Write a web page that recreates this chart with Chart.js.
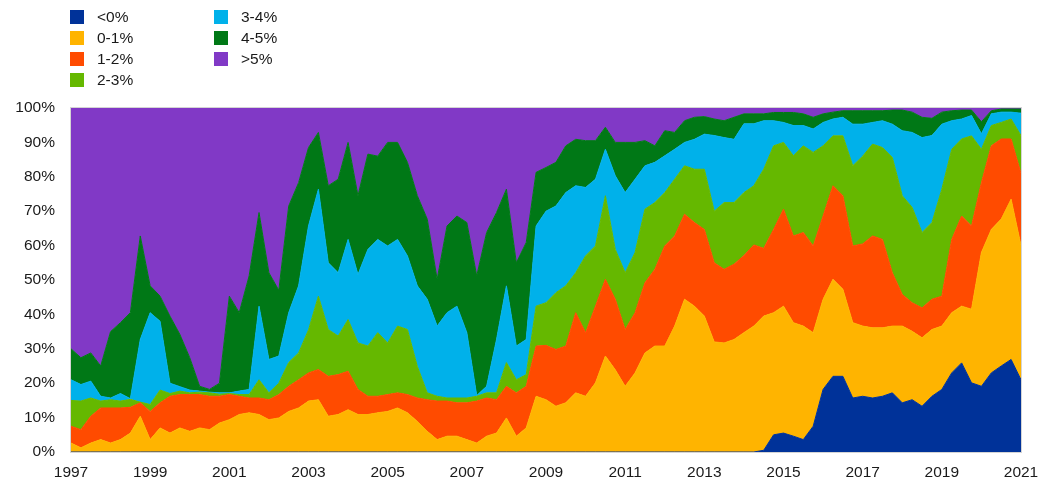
<!DOCTYPE html>
<html>
<head>
<meta charset="utf-8">
<script src="https://cdn.jsdelivr.net/npm/chart.js@4.4.1/dist/chart.umd.min.js"></script>
<style>
    body { margin: 0; background: #fff; font-family: "Liberation Sans", Arial, sans-serif; }
    #wrap { position: relative; width: 1041px; height: 484px; }
    #legend { position: absolute; left: 70px; top: 9px; }
    .item { position: absolute; white-space: nowrap; font-size: 15.5px; color: #1a1a1a; line-height: 16px; }
    .item span.box { position: absolute; left: 0; top: 1px; width: 14px; height: 14px; }
    .item span.txt { position: absolute; left: 27px; top: 0; }
</style>
</head>
<body>
<div id="wrap">
    <canvas id="chart" width="1041" height="484"></canvas>
    <div id="legend"></div>
</div>
<script>
// quarterly observations
const dates = [
    '1997-01', '1997-04', '1997-07', '1997-10',
    '1998-01', '1998-04', '1998-07', '1998-10',
    '1999-01', '1999-04', '1999-07', '1999-10',
    '2000-01', '2000-04', '2000-07', '2000-10',
    '2001-01', '2001-04', '2001-07', '2001-10',
    '2002-01', '2002-04', '2002-07', '2002-10',
    '2003-01', '2003-04', '2003-07', '2003-10',
    '2004-01', '2004-04', '2004-07', '2004-10',
    '2005-01', '2005-04', '2005-07', '2005-10',
    '2006-01', '2006-04', '2006-07', '2006-10',
    '2007-01', '2007-04', '2007-07', '2007-10',
    '2008-01', '2008-04', '2008-07', '2008-10',
    '2009-01', '2009-04', '2009-07', '2009-10',
    '2010-01', '2010-04', '2010-07', '2010-10',
    '2011-01', '2011-04', '2011-07', '2011-10',
    '2012-01', '2012-04', '2012-07', '2012-10',
    '2013-01', '2013-04', '2013-07', '2013-10',
    '2014-01', '2014-04', '2014-07', '2014-10',
    '2015-01', '2015-04', '2015-07', '2015-10',
    '2016-01', '2016-04', '2016-07', '2016-10',
    '2017-01', '2017-04', '2017-07', '2017-10',
    '2018-01', '2018-04', '2018-07', '2018-10',
    '2019-01', '2019-04', '2019-07', '2019-10',
    '2020-01', '2020-04', '2020-07', '2020-10',
    '2021-01'
];

// cumulative shares (%) with yield below each threshold
const shareBelow0 = [
    0, 0, 0, 0,  0, 0, 0, 0,  0, 0, 0, 0,  0, 0, 0, 0,  0, 0, 0, 0,
    0, 0, 0, 0,  0, 0, 0, 0,  0, 0, 0, 0,  0, 0, 0, 0,  0, 0, 0, 0,
    0, 0, 0, 0,  0, 0, 0, 0,  0, 0, 0, 0,  0, 0, 0, 0,  0, 0, 0, 0,
    0, 0, 0, 0,  0, 0, 0, 0,  0, 0, 0.5, 5,
    5.5, 4.6, 3.6, 7.5,
    18.2, 22, 22, 15.7,
    16.2, 15.7, 16.2, 17.2,
    14.3, 15.2, 13.3, 16.2,
    18.2, 23, 25.9, 20.1,
    19.1, 23, 25, 26.9,
    21
];
const shareBelow1 = [
    2.6, 1.2, 2.6, 3.6,   2.6, 3.6, 5.5, 10.4,  3.6, 7, 5.5, 7,       6, 7, 6.5, 8.4,
    9.4, 10.9, 11.4, 10.9, 9.4, 9.9, 11.8, 12.8, 14.8, 15.2, 10.4, 10.9, 12.3, 10.9, 10.9, 11.4,
    11.8, 12.8, 11.4, 8.9, 6, 3.6, 4.6, 4.6,     3.6, 2.6, 4.6, 5.5,   9.9, 4.6, 7, 16.2,
    15.2, 13.3, 14.3, 17.2, 16.2, 20.1, 27.9, 23.9, 19.1, 23, 28.8, 30.8, 30.8, 36.6, 44.4, 42.4,
    39.5, 32, 31.7, 32.7, 34.7, 36.6, 39.5, 40.5, 42.4, 37.6, 36.6, 34.7, 44.4, 50.2, 47.3, 37.6,
    36.6, 36.1, 36.1, 36.6, 36.6, 35.1, 33.2, 35.6, 36.6, 40.5, 42.4, 41.5, 58, 64.7, 67.7, 73.5,
    60
];
const shareBelow2 = [
    7.5, 6.5, 10.4, 12.8, 12.8, 12.8, 13, 14.3,   11.8, 14.3, 16.2, 16.7, 16.7, 16.7, 16.2, 16.2,
    16.7, 16.2, 15.7, 15.7, 15.2, 16.7, 19.1, 21, 23, 24, 22, 22.5,       23.5, 18.2, 16.2, 16.2,
    16.7, 17.2, 16.7, 15.7, 15.2, 14.8, 14.8, 14.3, 14.3, 14.8, 15.7, 15.2, 19.1, 17.2, 19.1, 30.8,
    31, 29.8, 30.8, 40.5, 34.7, 42.4, 50.2, 44.4, 35.6, 40.5, 49.2, 53.1, 59.9, 62.8, 69.1, 66.7,
    64.7, 55, 53.1, 54.6, 57.1, 60.2, 59.2, 64.7, 70.6, 62.8, 63.8, 59.9, 68.6, 77.4, 74.5, 59.9,
    60.5, 62.8, 61.8, 52.1, 45.8, 43.4, 41.9, 44.4, 45.3, 61.8, 68.6, 65.7, 78.3, 89, 91, 91,
    81
];
const shareBelow3 = [
    15, 14.8, 15.7, 14.8, 15.2, 14.8, 15.3, 14.5, 13.8, 18, 17, 17.7,    17.2, 17.4, 17.2, 16.8,
    17, 16.7, 16.7, 21,   17.2, 20, 26, 28.8,     35.5, 45.3, 35.6, 33.7, 38.5, 31.7, 30.8, 34.7,
    31.7, 36.6, 35.6, 24.9, 17.2, 16.2, 15.7, 15.7, 15.7, 16.2, 17.2, 17.2, 26, 21, 22.5, 42.4,
    43.4, 46.3, 48.3, 52.1, 57, 59.9, 74.5, 58.9, 52.1, 58, 70.6, 72.5, 75.4, 79.3, 83.2, 82.2,
    82.2, 70, 72.5, 72.5, 75.4, 77.4, 82.2, 89,   90, 86.1, 89, 87.1,     89, 91.9, 91.9, 83.2,
    86, 89.5, 88.5, 85.6, 74.5, 71.1, 63.8, 66.7, 76.4, 88, 91, 91.9,     88, 94.9, 95.8, 96.8,
    92
];
const shareBelow4 = [
    21, 19.6, 20.6, 16.2, 15.7, 17, 15.5, 32.7,  40.5, 38, 20, 19,       18, 17.7, 17.4, 17.2,
    17.2, 17.7, 18.2, 42.4, 26.9, 27.9, 40.5, 48.3, 65.7, 76.4, 55, 52.1, 61.8, 51.6, 58.9, 61.8,
    59.9, 61.8, 57, 48.3, 44.4, 36.6, 40.5, 42.4, 34.7, 16.4, 19.1, 32.7, 48.3, 30.8, 32.7, 65.7,
    70, 71.5, 75.4, 77.4, 76.9, 79.3, 88, 80.3,   75.4, 79.3, 83.2, 84.2, 86.1, 88, 90, 90.9,
    92.4, 92, 91.4, 90.9, 95.4, 95.4, 96.3, 96.3, 95.8, 94.9, 94.9, 93.9, 95.8, 96.8, 97.3, 95.3,
    95.3, 95.8, 96.3, 95.3, 93.4, 92.9, 91.4, 92, 95.3, 96.3, 96.8, 97.8, 92.5, 98.3, 98.8, 98.8,
    98.5
];
const shareBelow5 = [
    30, 27.4, 28.8, 25,   35, 37.6, 40.5, 62.8,   48.3, 45.3, 39.5, 34.2, 27.4, 19.1, 18.2, 20,
    45.3, 40.5, 51.2, 69.6, 52.1, 47, 71.5, 78.3, 88.5, 92.9, 77.4, 79.3, 90, 74.5, 86.6, 86,
    90, 90, 84.2, 74.5,   67.7, 50.2, 65.7, 68.6, 66.7, 51.2, 63.8, 69.6, 76.4, 55, 60.9, 81.3,
    82.7, 84.2, 89, 90.9, 90.5, 90.5, 94.4, 90,   90, 90, 90.5, 89,       93.4, 92.9, 96.3, 97.3,
    97.5, 96.8, 96.3, 97.3, 98.3, 98.3, 98.3, 98.7, 98.7, 98.7, 98.3, 97.3, 98.3, 98.8, 99.2, 99.2,
    99.2, 99.2, 99.2, 99.4, 99.4, 98.8, 97.3, 97, 98.8, 99.2, 99.4, 99.4, 96, 99.2, 99.7, 99.7,
    99.7
];
const shareTotal = dates.map(() => 100);

const bandLabels = ['<0%', '0-1%', '1-2%', '2-3%', '3-4%', '4-5%', '>5%'];
const bandColors = ['#003299', '#FFB400', '#FF4B00', '#65B800', '#00B1EA', '#007816', '#8139C6'];
const bandSeries = [shareBelow0, shareBelow1, shareBelow2, shareBelow3, shareBelow4, shareBelow5, shareTotal];

const xs = dates.map(d => {
    const [y, m] = d.split('-').map(Number);
    return y + (m - 1) / 12;
});

const datasets = bandSeries.map((s, i) => ({
    label: bandLabels[i],
    data: s.map((v, j) => ({x: xs[j], y: v})),
    backgroundColor: bandColors[i],
    borderColor: bandColors[i],
    borderWidth: 1,
    pointRadius: 0,
    tension: 0,
    fill: i === 0 ? 'origin' : '-1'
}));

const tickFont = {family: '"Liberation Sans", Arial, sans-serif', size: 15.5};

const boxPlugin = {
    id: 'boxPlugin',
    afterDraw(chart) {
        const a = chart.chartArea, c = chart.ctx;
        c.save();
        c.strokeStyle = '#d4d4d4';
        c.lineWidth = 1;
        c.strokeRect(Math.round(a.left) - 0.5, Math.round(a.top) - 0.5, Math.round(a.right - a.left) + 1, Math.round(a.bottom - a.top) + 1);
        c.restore();
    }
};

new Chart(document.getElementById('chart').getContext('2d'), {
    type: 'line',
    data: {datasets: datasets},
    plugins: [boxPlugin],
    options: {
        responsive: false,
        animation: false,
        layout: {padding: {top: 108, right: 20, left: 0, bottom: 0}},
        plugins: {legend: {display: false}, tooltip: {enabled: false}},
        scales: {
            x: {
                type: 'linear', min: 1997, max: 2021,
                grid: {display: false, drawTicks: false},
                border: {display: false},
                ticks: {stepSize: 2, maxRotation: 0, padding: 11, color: '#1a1a1a', font: tickFont,
                    callback: v => String(v)},
                afterFit: s => { s.height = 32; s.paddingLeft = 0; s.paddingRight = 0; }
            },
            y: {
                min: 0, max: 100,
                grid: {display: false, drawTicks: false},
                border: {display: false},
                ticks: {stepSize: 10, padding: 16, color: '#1a1a1a', font: tickFont,
                    callback: v => v + '%'},
                afterFit: s => { s.width = 71; s.paddingTop = 0; s.paddingBottom = 0; }
            }
        }
    }
});

// legend: two columns, filled top to bottom
const legend = document.getElementById('legend');
bandLabels.forEach((lab, i) => {
    const col = i < 4 ? 0 : 1, row = i < 4 ? i : i - 4;
    const el = document.createElement('div');
    el.className = 'item';
    el.style.left = (col * 144) + 'px';
    el.style.top = (row * 21) + 'px';
    el.innerHTML = '<span class="box" style="background:' + bandColors[i] + '"></span><span class="txt"></span>';
    el.querySelector('.txt').textContent = lab;
    legend.appendChild(el);
});
</script>
</body>
</html>
